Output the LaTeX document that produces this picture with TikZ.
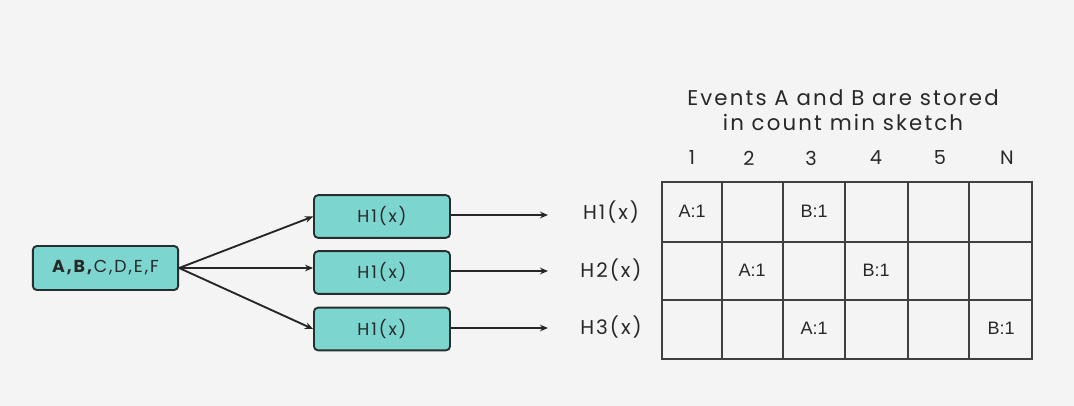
\documentclass[tikz,border=0pt]{standalone}
\usepackage{fontspec}
\setmainfont{Poppins}
\newfontfamily\cellfont{Liberation Sans}
\newfontfamily\boxfont[LetterSpace=11]{Poppins}
\newfontfamily\labelfont[LetterSpace=10]{Poppins}
\usepackage{tikz}
\usepackage{xcolor}
\usetikzlibrary{arrows.meta}
\definecolor{bgcol}{RGB}{244,244,244}
\definecolor{hashfill}{RGB}{124,214,207}
\definecolor{edgecol}{RGB}{38,46,46}
\definecolor{gridcol}{RGB}{64,64,64}
\definecolor{txtcol}{RGB}{40,40,40}
\tikzset{every picture/.style={line width=0.75pt}}
\tikzset{
  hashbox/.style={draw=edgecol, fill=hashfill, rounded corners=3pt, line width=1.4pt,
    minimum width=102pt, minimum height=32pt, inner sep=0pt, text=txtcol,
    font=\boxfont\fontsize{13}{15}\selectfont},
  rowlabel/.style={text=txtcol, font=\labelfont\fontsize{15}{17}\selectfont},
  colnum/.style={text=txtcol, font=\fontsize{14.5}{16}\selectfont},
  cellval/.style={text=txtcol, font=\cellfont\fontsize{13.5}{15}\selectfont},
  feed/.style={draw=black!85, line width=1.4pt, -{Stealth[length=6pt,width=5pt]}},
}

\begin{document}
\begin{tikzpicture}[x=0.75pt,y=0.75pt,yscale=-1,xscale=1]
%background, sets the size of the picture
\fill[bgcol] (0,0) rectangle (1074,406);
\useasboundingbox (0,0) rectangle (1074,406);

%Shape: Rounded Rectangle [input]
\draw (105.5,268) node (input) [hashbox, minimum width=109pt, minimum height=33pt] {\textbf{A,B,}C,D,E,F};

%Shape: Rounded Rectangle [hash boxes]
\draw (382,216.5) node (h1) [hashbox] {H1(x)};
\draw (382,272.5) node (h2) [hashbox] {H1(x)};
\draw (382,329) node (h3) [hashbox] {H1(x)};

%Curve Lines [input to hash]
\draw [feed] (input.east) -- (h1.west);
\draw [feed] (input.east) -- (h2.west |- input.east);
\draw [feed] (input.east) -- (h3.west);

%Straight Lines [hash to rows]
\coordinate (e1) at (548,215);
\coordinate (e2) at (548,271);
\coordinate (e3) at (548,328);
\draw [feed] (h1.east |- e1) -- (e1);
\draw [feed] (h2.east |- e2) -- (e2);
\draw [feed] (h3.east |- e3) -- (e3);

%Shape: Grid [count min sketch]
\draw [gridcol, line width=1.3pt] (662,182) rectangle (1032,359);
\draw [gridcol, line width=1.3pt] (662,242) -- (1032,242);
\draw [gridcol, line width=1.3pt] (662,300) -- (1032,300);
\draw [gridcol, line width=1.3pt] (722,182) -- (722,359);
\draw [gridcol, line width=1.3pt] (783,182) -- (783,359);
\draw [gridcol, line width=1.3pt] (845,182) -- (845,359);
\draw [gridcol, line width=1.3pt] (908,182) -- (908,359);
\draw [gridcol, line width=1.3pt] (969,182) -- (969,359);

% Text Node
\draw (843,110) node (title) [align=center, text=txtcol, font=\labelfont\fontsize{16}{18.5}\selectfont] {Events A and B are stored\\in count min sketch};

% Text Node [row labels]
\draw (611,212) node (r1) [rowlabel] {H1(x)};
\draw (611,270) node (r2) [rowlabel] {H2(x)};
\draw (611,327) node (r3) [rowlabel] {H3(x)};

% Text Node [column numbers]
\draw (692,158) node (n1) [colnum] {1};
\draw (749,158) node (n2) [colnum] {2};
\draw (811,158) node (n3) [colnum] {3};
\draw (876,158) node (n4) [colnum] {4};
\draw (940,158) node (n5) [colnum] {5};
\draw (1007,158) node (nN) [colnum] {N};

% Text Node [cell values]
\draw (692,211) node (a1) [cellval] {A:1};
\draw (814,211) node (b1) [cellval] {B:1};
\draw (752,270) node (a2) [cellval] {A:1};
\draw (876,270) node (b2) [cellval] {B:1};
\draw (814,328) node (a3) [cellval] {A:1};
\draw (1001,328) node (b3) [cellval] {B:1};

\end{tikzpicture}
\end{document}
